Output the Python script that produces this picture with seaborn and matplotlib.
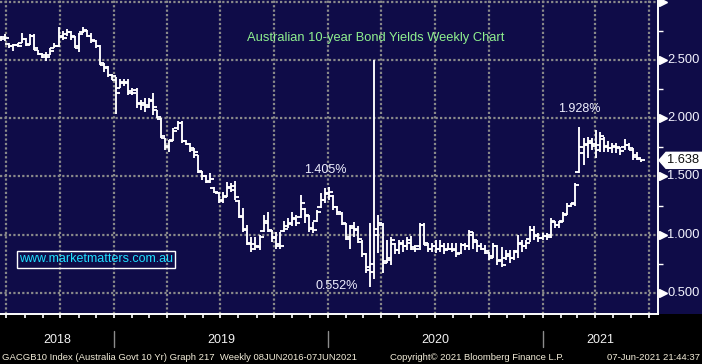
import numpy as np
import pandas as pd
import matplotlib
matplotlib.use("Agg")
import matplotlib.pyplot as plt
import matplotlib.dates as mdates
import matplotlib.transforms as mtransforms
from matplotlib.patches import Polygon, Rectangle
from matplotlib.ticker import MultipleLocator, NullFormatter
import seaborn as sns

# ---------------- data (weekly OHLC, % yield) ----------------
opens = [2.69, 2.70, 2.64, 2.62, 2.63, 2.65, 2.68, 2.64, 2.71, 2.59, 2.55,
         2.54, 2.54, 2.60, 2.62, 2.71, 2.72, 2.74, 2.70, 2.60, 2.74,
         2.75, 2.71, 2.66, 2.62, 2.46, 2.44, 2.37, 2.33, 2.26, 2.31,
         2.31, 2.23, 2.24, 2.12, 2.13, 2.11, 2.16, 2.07, 1.99, 1.83,
         1.75, 1.81, 1.92, 1.96, 1.80, 1.78, 1.73, 1.68, 1.54, 1.50,
         1.46, 1.40, 1.36, 1.29, 1.33, 1.41, 1.42, 1.29, 1.15, 1.05,
         0.92, 0.92, 0.89, 1.03, 1.12, 1.03, 0.98, 0.92, 1.03, 1.07,
         1.09, 1.14, 1.15, 1.22, 1.16, 1.05, 1.12, 1.24, 1.30, 1.36,
         1.33, 1.24, 1.18, 1.09, 0.96, 1.07, 1.04, 0.94, 0.83, 0.70,
         0.75, 1.05, 1.08, 0.77, 0.80, 0.92, 0.87, 0.93, 0.90, 0.95,
         0.89, 0.90, 1.08, 0.91, 0.88, 0.90, 0.88, 0.90, 0.88, 0.88,
         0.88, 0.84, 0.91, 0.90, 1.00, 0.94, 0.90, 0.88, 0.84, 0.82,
         0.90, 0.78, 0.80, 0.82, 0.80, 0.86, 0.92, 0.90, 0.96, 1.04,
         0.99, 0.97, 0.99, 1.00, 1.11, 1.08, 1.12, 1.18, 1.25, 1.27,
         1.54, 1.70, 1.78, 1.79, 1.76, 1.77, 1.82, 1.76, 1.74, 1.75,
         1.74, 1.75, 1.77, 1.73, 1.67, 1.65]
highs = [2.71, 2.72, 2.65, 2.64, 2.65, 2.73, 2.69, 2.72, 2.72, 2.59, 2.56,
         2.57, 2.60, 2.65, 2.78, 2.75, 2.77, 2.75, 2.71, 2.73, 2.78,
         2.76, 2.73, 2.67, 2.63, 2.47, 2.45, 2.38, 2.35, 2.34, 2.34,
         2.34, 2.26, 2.26, 2.16, 2.17, 2.17, 2.22, 2.07, 2.00, 1.83,
         1.81, 1.92, 1.98, 1.98, 1.81, 1.79, 1.74, 1.68, 1.55, 1.51,
         1.53, 1.41, 1.37, 1.37, 1.45, 1.44, 1.46, 1.30, 1.23, 1.08,
         0.98, 0.98, 1.00, 1.17, 1.19, 1.04, 1.02, 1.02, 1.12, 1.14,
         1.19, 1.17, 1.34, 1.23, 1.17, 1.11, 1.21, 1.36, 1.40, 1.405,
         1.34, 1.25, 1.19, 1.10, 1.08, 1.11, 1.07, 0.95, 0.84, 1.10,
         2.50, 1.17, 1.10, 0.95, 0.98, 0.93, 0.95, 0.95, 0.98, 0.99,
         0.91, 1.10, 1.10, 0.93, 0.93, 0.95, 0.95, 0.93, 0.93, 0.93,
         0.93, 0.93, 0.93, 1.04, 1.02, 0.95, 0.93, 0.91, 0.85, 0.93,
         0.91, 0.89, 0.87, 0.87, 0.87, 1.00, 0.95, 0.95, 1.07, 1.07,
         1.01, 1.01, 1.01, 1.14, 1.12, 1.12, 1.19, 1.27, 1.27, 1.44,
         1.928, 1.83, 1.84, 1.83, 1.90, 1.88, 1.84, 1.80, 1.79, 1.79,
         1.75, 1.82, 1.79, 1.74, 1.71, 1.65]
lows = [2.66, 2.66, 2.60, 2.58, 2.61, 2.65, 2.62, 2.63, 2.59, 2.54, 2.52,
        2.49, 2.54, 2.60, 2.61, 2.67, 2.71, 2.67, 2.60, 2.57, 2.73,
        2.70, 2.65, 2.60, 2.46, 2.40, 2.35, 2.33, 2.04, 2.26, 2.28,
        2.20, 2.20, 2.09, 2.07, 2.05, 2.09, 2.03, 2.00, 1.83, 1.73,
        1.71, 1.80, 1.90, 1.79, 1.77, 1.71, 1.66, 1.53, 1.47, 1.44,
        1.44, 1.36, 1.27, 1.27, 1.32, 1.37, 1.30, 1.14, 1.02, 0.91,
        0.85, 0.87, 0.87, 1.02, 1.02, 0.94, 0.88, 0.88, 1.02, 1.06,
        1.07, 1.07, 1.14, 1.10, 1.02, 1.01, 1.11, 1.23, 1.27, 1.30,
        1.21, 1.17, 1.08, 0.95, 0.88, 0.98, 0.93, 0.81, 0.67, 0.552,
        0.62, 0.84, 0.67, 0.76, 0.74, 0.83, 0.83, 0.85, 0.87, 0.87,
        0.85, 0.87, 0.91, 0.85, 0.85, 0.84, 0.85, 0.83, 0.87, 0.85,
        0.81, 0.83, 0.87, 0.87, 0.88, 0.85, 0.87, 0.83, 0.78, 0.80,
        0.74, 0.72, 0.78, 0.76, 0.78, 0.80, 0.85, 0.88, 0.94, 0.95,
        0.94, 0.95, 0.95, 0.97, 1.06, 1.06, 1.11, 1.17, 1.24, 1.25,
        1.53, 1.60, 1.66, 1.73, 1.66, 1.71, 1.71, 1.71, 1.70, 1.70,
        1.68, 1.73, 1.73, 1.64, 1.64, 1.62]
closes = [2.68, 2.69, 2.62, 2.63, 2.62, 2.68, 2.63, 2.71, 2.60, 2.55, 2.53,
          2.53, 2.58, 2.62, 2.70, 2.69, 2.74, 2.71, 2.62, 2.72, 2.76,
          2.71, 2.67, 2.62, 2.47, 2.43, 2.37, 2.36, 2.22, 2.30, 2.30,
          2.22, 2.22, 2.13, 2.11, 2.10, 2.15, 2.10, 2.01, 1.85, 1.76,
          1.80, 1.89, 1.96, 1.80, 1.78, 1.74, 1.71, 1.55, 1.50, 1.45,
          1.48, 1.37, 1.30, 1.32, 1.40, 1.38, 1.32, 1.16, 1.04, 0.93,
          0.88, 0.90, 0.98, 1.10, 1.04, 0.97, 0.90, 0.90, 1.05, 1.10,
          1.13, 1.10, 1.27, 1.17, 1.06, 1.04, 1.19, 1.30, 1.35, 1.37,
          1.24, 1.19, 1.10, 0.98, 1.06, 1.05, 0.96, 0.83, 0.72, 0.68,
          1.00, 1.10, 0.76, 0.78, 0.95, 0.87, 0.92, 0.90, 0.93, 0.88,
          0.88, 1.08, 0.93, 0.88, 0.90, 0.88, 0.90, 0.87, 0.88, 0.87,
          0.83, 0.91, 0.90, 1.02, 0.95, 0.90, 0.88, 0.86, 0.80, 0.90,
          0.77, 0.74, 0.83, 0.80, 0.85, 0.93, 0.90, 0.93, 1.04, 1.00,
          0.97, 0.99, 0.98, 1.12, 1.08, 1.11, 1.17, 1.25, 1.26, 1.43,
          1.75, 1.77, 1.80, 1.78, 1.73, 1.85, 1.75, 1.74, 1.76, 1.75,
          1.72, 1.77, 1.74, 1.68, 1.66, 1.638]
# weekly bar positions (Bloomberg plots each weekly bar at the end of its period)
dates = pd.date_range(end="2021-06-18", periods=len(closes), freq="W-FRI")

title = "Australian 10-year Bond Yields Weekly Chart"
y_ticks = [0.5, 1.0, 1.5, 2.0, 2.5, 3.0]
y_labels = ["0.500", "1.000", "1.500", "2.000", "2.500", ""]
years = [2018, 2019, 2020, 2021]
notes = [("1.405%", 325, 170), ("0.552%", 337, 286), ("1.928%", 579, 109)]
footer_left = "GACGB10 Index (Australia Govt 10 Yr) Graph 217  Weekly 08JUN2016-07JUN2021"
footer_mid = "Copyright\u00a9 2021 Bloomberg Finance L.P."
footer_right = "07-Jun-2021 21:44:37"
site = "www.marketmatters.com.au"

# ---------------- style ----------------
sns.set_theme(style="dark")
plt.rcParams["font.family"] = ["Liberation Sans", "DejaVu Sans"]

W, H = 702, 364
NAVY = "#0f0c48"
fig = plt.figure(figsize=(W / 100, H / 100), dpi=100, facecolor="black")
fig.patches.append(Rectangle((0, 1 - 314 / H), 1, 314 / H, transform=fig.transFigure,
                             facecolor=NAVY, edgecolor="none", zorder=-5))
ax = fig.add_axes([0, (H - 314) / H, 658 / W, 314 / H])
ax.set_facecolor(NAVY)
ax.set_zorder(1)

def fx(px):
    return px / W

def fy(py):
    return 1 - py / H

xnum = mdates.date2num(dates)
left = mdates.date2num(pd.Timestamp("2018-06-20"))
days_per_px = 365.25 / 214
right = left + 658 * days_per_px

# OHLC bars
ax.vlines(xnum, lows, highs, color="white", linewidth=1.35, zorder=3)
ohlc = pd.DataFrame({"x": xnum, "open": opens, "close": closes})
sns.scatterplot(data=ohlc, x="x", y="open", marker=0, color="white", s=8,
                linewidth=1.35, ax=ax, zorder=4, legend=False)
sns.scatterplot(data=ohlc, x="x", y="close", marker=1, color="white", s=8,
                linewidth=1.35, ax=ax, zorder=4, legend=False)
ax.set_xlabel("")
ax.set_ylabel("")
ax.set_xlim(left, right)
ax.set_ylim(0.318, 3.0155)

# grid
ax.xaxis.set_major_locator(mdates.MonthLocator(bymonth=[1, 4, 7, 10]))
ax.xaxis.set_minor_locator(mdates.MonthLocator())
ax.xaxis.set_major_formatter(NullFormatter())
ax.yaxis.set_major_locator(plt.FixedLocator(y_ticks))
ax.yaxis.set_minor_locator(MultipleLocator(0.25))
ax.yaxis.set_major_formatter(NullFormatter())
ax.yaxis.tick_right()
ax.grid(True, which="major", color="#8a8a8a", linestyle=(0, (1, 1)), linewidth=1.6, zorder=1)
ax.set_axisbelow(True)
ax.tick_params(axis="x", which="both", direction="out", length=3, width=1.2,
               color="white", labelbottom=False, bottom=True)
ax.tick_params(axis="y", which="major", length=0, labelright=False)
ax.tick_params(axis="y", which="minor", direction="out", length=3.5, width=1.0,
               color="white", right=True)
for s in ["top", "left"]:
    ax.spines[s].set_visible(False)
for s in ["right", "bottom"]:
    ax.spines[s].set_visible(True)
    ax.spines[s].set_color("white")
    ax.spines[s].set_linewidth(1.4)

# right axis labels with triangle markers
tr = mtransforms.blended_transform_factory(ax.transAxes, ax.transData)
for v, lab in zip(y_ticks, y_labels):
    ax.plot([1 + 4.5 / 658], [v], marker=">", markersize=5.5, color="white",
            transform=tr, clip_on=False, zorder=6)
    if lab:
        ax.text(1 + 9 / 658, v, lab, transform=tr, ha="left", va="center",
                fontsize=9.3, color="#f4f4ff", clip_on=False)

# year separators & labels
trx = mtransforms.blended_transform_factory(ax.transData, ax.transAxes)
bounds = [left] + [mdates.date2num(pd.Timestamp(f"{y}-01-01")) for y in years[1:]] + [right]
for b in bounds[1:-1]:
    ax.plot([b, b], [-(331 - 314) / 314, -(347 - 314) / 314], color="#8c8c8c",
            linewidth=1.0, transform=trx, clip_on=False)
for i, y in enumerate(years):
    ax.text((bounds[i] + bounds[i + 1]) / 2, -(340 - 314) / 314, str(y), transform=trx,
            ha="center", va="center", fontsize=9, color="#f2f2f2", clip_on=False)

# title / notes
fig.text(fx(376), fy(38), title, ha="center", va="center", fontsize=9.3, color="#8ff08f", zorder=5)
for txt, x, y in notes:
    fig.text(fx(x), fy(y), txt, ha="center", va="center", fontsize=9, color="#f0f0ff", zorder=5)
fig.text(fx(96), fy(259.5), site, ha="center", va="center", fontsize=9, color="#1fe0ff", zorder=5,
         bbox=dict(boxstyle="square,pad=0.18", facecolor="none", edgecolor="white", linewidth=1.0))

# footer
fig.text(fx(2), fy(357), footer_left, ha="left", va="center", fontsize=6.8, color="#f2ecd8")
fig.text(fx(477), fy(357), footer_mid, ha="center", va="center", fontsize=6.8, color="#f2ecd8")
fig.text(fx(700), fy(357), footer_right, ha="right", va="center", fontsize=6.8, color="#f2ecd8")

# current value tag
last = closes[-1]
fig.canvas.draw()
ydisp = ax.transData.transform((left, last))[1]
yc = ydisp / fig.bbox.height
hh = 8 / H
tag = Polygon([(fx(659), yc), (fx(666), yc + hh), (1.0, yc + hh), (1.0, yc - hh), (fx(666), yc - hh)],
              closed=True, transform=fig.transFigure, facecolor="white", edgecolor="white", zorder=10)
fig.patches.append(tag)
fig.text(fx(683), yc, f"{last:.3f}", ha="center", va="center", fontsize=9.3, color="#101010", zorder=11)

fig.savefig("out.png", dpi=100, facecolor="black")
